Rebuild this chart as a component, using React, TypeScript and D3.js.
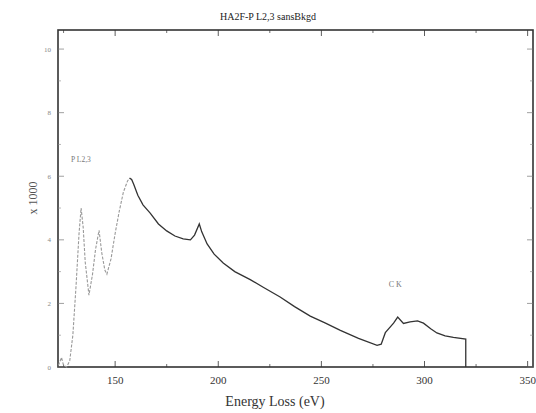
import React from "react";
import * as d3 from "d3";

const energy = [122.5,124,125,126.5,128,129.5,131,132.5,133.5,134.5,135.5,137.3,139,140.5,142.2,143.5,145,146,148,150,152,154,156,157,158,159,161,163.5,167,171,175,179,183,186.5,188.5,190.8,192,194.6,198,202.4,208,215.5,222,230,237,244.6,252,259.2,268,277,279,281,285,287,289.8,293,296.6,299.5,303,306,310,314,320,320];
const counts = [0.05,0.3,0.05,0.0,0.2,1.0,2.5,4.2,5.0,4.4,3.3,2.26,2.9,3.7,4.3,3.6,3.05,2.92,3.4,4.2,4.9,5.5,5.85,5.94,5.9,5.75,5.4,5.1,4.84,4.5,4.28,4.12,4.03,4.0,4.15,4.5,4.25,3.87,3.55,3.27,3.0,2.75,2.5,2.2,1.9,1.6,1.38,1.15,0.9,0.68,0.72,1.08,1.38,1.57,1.37,1.42,1.45,1.38,1.2,1.07,0.98,0.93,0.88,0];
const xMajor = [150,200,250,300,350];
const xMinor = [125,175,225,275,325];
const yMajor = [0,2,4,6,8,10];
const yMinor = [1,3,5,7,9];
const title = "HA2F-P L2,3 sansBkgd";
const xTitle = "Energy Loss (eV)";
const yTitle = "x 1000";

export default function App() {
  const W = 536, H = 413;
  const L = 58, R = 533, T = 30, B = 367;
  const x = d3.scaleLinear().domain([122.3, 352.6]).range([L, R]);
  const y = d3.scaleLinear().domain([0, 10.6]).range([B, T]);
  const pts = energy.map((e, i) => [e, counts[i]] as [number, number]);
  const line = d3.line<[number, number]>().x(d => x(d[0])).y(d => y(d[1]));
  const split = energy.indexOf(157);
  const early = pts.slice(0, split + 1);
  const late = pts.slice(split);
  const serif = "'Liberation Serif', 'DejaVu Serif', serif";
  const axisCol = "#333";
  return (
    <svg width={W} height={H} style={{ position: "absolute", left: 0, top: 0, background: "#fff" }} fontFamily={serif}>
      <rect x={L} y={T} width={R - L} height={B - T} fill="none" stroke={axisCol} strokeWidth={1.6} />
      {xMajor.map(v => (
        <g key={"xm" + v}>
          <line x1={x(v)} x2={x(v)} y1={B} y2={B - 6} stroke={axisCol} strokeWidth={0.8} />
          <line x1={x(v)} x2={x(v)} y1={T} y2={T + 6} stroke={axisCol} strokeWidth={0.8} />
          <text x={x(v)} y={B + 17} textAnchor="middle" fontSize={11} fill="#333">{v}</text>
        </g>
      ))}
      {xMinor.map(v => (
        <g key={"xn" + v}>
          <line x1={x(v)} x2={x(v)} y1={B} y2={B - 3} stroke={axisCol} strokeWidth={0.7} />
          <line x1={x(v)} x2={x(v)} y1={T} y2={T + 3} stroke={axisCol} strokeWidth={0.7} />
        </g>
      ))}
      {yMajor.map(v => (
        <g key={"ym" + v}>
          <line x1={L} x2={L + 6} y1={y(v)} y2={y(v)} stroke="#777" strokeWidth={0.7} />
          <line x1={R} x2={R - 6} y1={y(v)} y2={y(v)} stroke="#777" strokeWidth={0.7} />
          <text x={L - 7} y={y(v) + 2.5} textAnchor="end" fontSize={7} fill="#888">{v}</text>
        </g>
      ))}
      {yMinor.map(v => (
        <g key={"yn" + v}>
          <line x1={L} x2={L + 3} y1={y(v)} y2={y(v)} stroke="#888" strokeWidth={0.6} />
          <line x1={R} x2={R - 3} y1={y(v)} y2={y(v)} stroke="#888" strokeWidth={0.6} />
        </g>
      ))}
      <path d={line(early) || ""} fill="none" stroke="#999" strokeWidth={1.1} strokeDasharray="3,1.5" />
      <path d={line(late) || ""} fill="none" stroke="#333" strokeWidth={1.3} />
      <text x={268} y={20} textAnchor="middle" fontSize={10} fill="#222">{title}</text>
      <text x={275} y={406} textAnchor="middle" fontSize={14} fill="#333">{xTitle}</text>
      <text transform={`translate(37,${198}) rotate(-90)`} textAnchor="middle" fontSize={12} fill="#555">{yTitle}</text>
      <text x={x(133.5) - 10} y={y(5.0) - 46} textAnchor="start" fontSize={7.5} fill="#777">P L2,3</text>
      <text x={x(287) - 9} y={y(1.57) - 30} textAnchor="start" fontSize={8} fill="#777">C K</text>
    </svg>
  );
}
